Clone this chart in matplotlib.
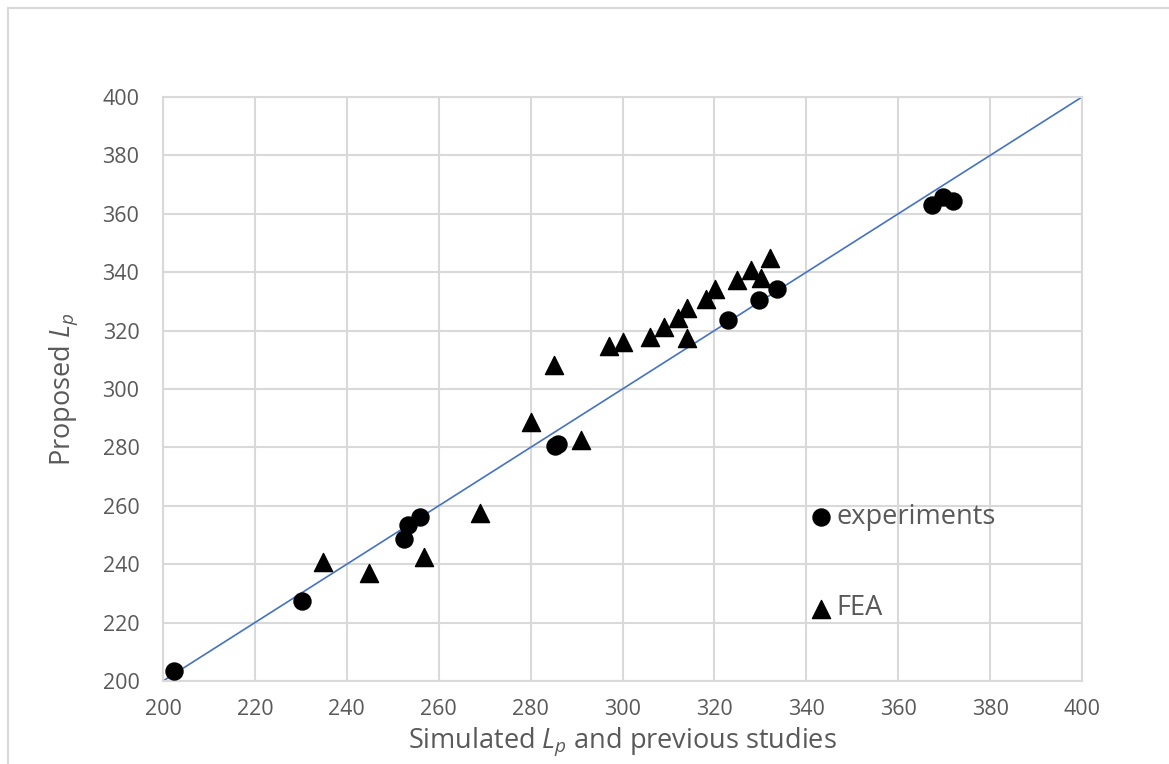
import matplotlib.pyplot as plt
from matplotlib.patches import Rectangle

plt.rcParams['font.family'] = ['Open Sans', 'DejaVu Sans']
plt.rcParams['mathtext.fontset'] = 'custom'
plt.rcParams['mathtext.it'] = 'Open Sans:italic'
plt.rcParams['mathtext.rm'] = 'Open Sans'

# experiments (circles)
exp_x = [202.4, 230.2, 252.4, 253.4, 255.9, 285.3, 286.0, 323.0, 329.8, 333.6, 367.4, 369.8, 371.9]
exp_y = [203.5, 227.3, 248.7, 253.4, 256.0, 280.5, 281.0, 323.6, 330.5, 334.1, 363.0, 365.6, 364.5]

# FEA (triangles)
fea_x = [234.9, 244.9, 256.9, 269.0, 280.0, 285.1, 291.0, 297.0, 300.0, 306.0, 309.0,
         312.1, 314.1, 314.1, 318.1, 320.2, 325.0, 328.0, 330.1, 332.1]
fea_y = [240.9, 236.9, 242.4, 257.6, 288.8, 308.2, 282.5, 314.7, 316.0, 317.9, 321.1,
         324.4, 327.6, 317.4, 330.7, 334.1, 337.3, 340.8, 337.9, 344.8]

line_x = [200, 400]
line_y = [200, 400]

ticks = list(range(200, 401, 20))
grey = '#595959'
gridc = '#d9d9d9'

fig = plt.figure(figsize=(11.69, 7.64), dpi=100)
fig.patches.append(Rectangle((8 / 1169, -0.1), 1.2, (764 - 8) / 764 + 0.1,
                             transform=fig.transFigure, fill=False,
                             edgecolor=gridc, linewidth=1.5))
ax = fig.add_axes([163 / 1169, 1 - 681 / 764, (1082 - 163) / 1169, (681 - 97) / 764])

ax.plot(line_x, line_y, color='#4472c4', linewidth=1.2, zorder=2)
ax.scatter(exp_x, exp_y, marker='o', s=150, color='black', zorder=3)
ax.scatter(fea_x, fea_y, marker='^', s=170, color='black', zorder=3)

ax.set_xlim(200, 400)
ax.set_ylim(200, 400)
ax.set_xticks(ticks)
ax.set_yticks(ticks)
ax.grid(True, color=gridc, linewidth=1.5)
ax.set_axisbelow(True)
for sp in ax.spines.values():
    sp.set_color(gridc)
    sp.set_linewidth(1.5)
ax.tick_params(axis='x', length=0, labelsize=15.5, colors=grey, pad=13)
ax.tick_params(axis='y', length=0, labelsize=15.5, colors=grey, pad=17)

ax.set_xlabel('Simulated $L_p$ and previous studies', fontsize=19.5, color=grey, labelpad=4)
ax.set_ylabel('Proposed $L_p$', fontsize=19.5, color=grey, labelpad=16)

# legend drawn as in the original
ax.scatter([343.2], [256.2], marker='o', s=150, color='black', zorder=3, clip_on=False)
ax.text(346.5, 256.2, 'experiments', fontsize=19.5, color=grey, va='center', ha='left')
ax.scatter([343.2], [224.8], marker='^', s=170, color='black', zorder=3, clip_on=False)
ax.text(346.5, 225.0, 'FEA', fontsize=19.5, color=grey, va='center', ha='left')

fig.savefig('out.png', dpi=100)
